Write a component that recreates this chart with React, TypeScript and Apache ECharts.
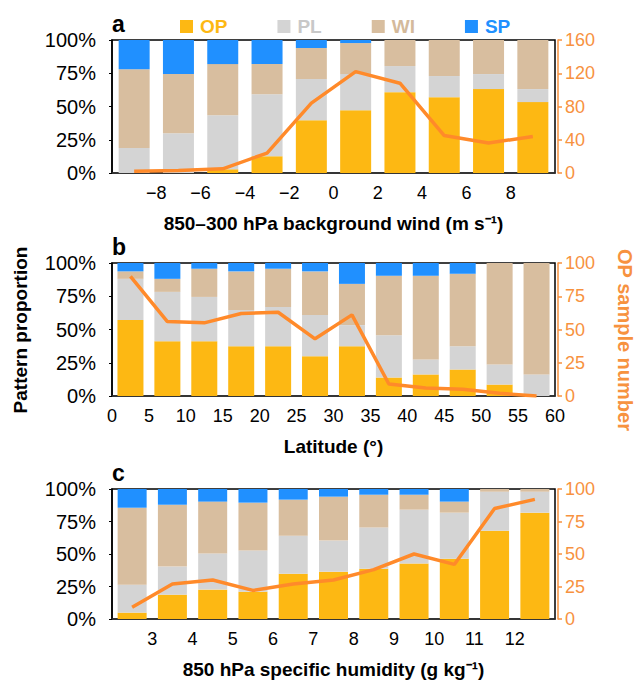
import React, { useEffect, useRef } from "react";
import * as echarts from "echarts";

// Panel a: 850–300 hPa background wind bins (m s-1), centres of 2 m s-1 bins
const windBins = [-9, -7, -5, -3, -1, 1, 3, 5, 7, 9];
const windOP = [0, 0, 2.8, 12.6, 39.7, 47.2, 60.8, 57.0, 63.1, 53.3];
const windPL = [18.8, 29.9, 40.7, 46.7, 30.9, 27.2, 19.6, 15.9, 11.3, 9.8];
const windWI = [59.3, 44.5, 38.4, 22.6, 23.4, 23.3, 19.6, 27.1, 25.6, 36.9];
const windSP = [21.9, 25.6, 18.1, 18.1, 6.0, 2.3, 0, 0, 0, 0];
const windCount = [2, 3, 5, 24, 84, 122, 108, 45, 36, 44];

// Panel b: latitude bins (°), centres of 5° bins
const latBins = [2.5, 7.5, 12.5, 17.5, 22.5, 27.5, 32.5, 37.5, 42.5, 47.5, 52.5, 57.5];
const latOP = [57.1, 41.2, 41.2, 37.4, 37.4, 29.8, 37.4, 13.9, 16.2, 19.9, 8.6, 0];
const latPL = [31.0, 37.1, 33.3, 27.2, 29.5, 31.1, 15.9, 31.8, 11.3, 17.5, 15.1, 16.2];
const latWI = [5.6, 9.8, 21.2, 29.1, 28.8, 32.8, 31.0, 44.7, 62.9, 54.5, 76.3, 83.8];
const latSP = [6.3, 11.9, 4.3, 6.3, 4.3, 6.3, 15.7, 9.6, 9.6, 8.1, 0, 0];
const latCount = [90, 56, 55, 62, 63, 43, 61, 9, 6, 5, 2, 0];

// Panel c: 850 hPa specific humidity bins (g kg-1), centres of 1 g kg-1 bins
const humBins = [2.5, 3.5, 4.5, 5.5, 6.5, 7.5, 8.5, 9.5, 10.5, 11.5, 12.5];
const humOP = [4.9, 18.7, 22.6, 21.0, 34.9, 36.4, 38.7, 42.6, 46.4, 67.9, 81.8];
const humPL = [21.5, 21.6, 27.7, 31.6, 29.2, 23.9, 31.6, 41.5, 35.4, 30.0, 16.1];
const humWI = [59.2, 47.6, 40.0, 36.9, 27.7, 33.8, 25.3, 11.5, 8.5, 2.1, 2.1];
const humSP = [14.4, 12.1, 9.7, 10.5, 8.2, 5.9, 4.4, 4.4, 9.7, 0, 0];
const humCount = [9, 27, 30, 22, 27, 30, 38, 50, 42, 85, 92];

const patternNames = ["OP", "PL", "WI", "SP"];

const FONT = '"Liberation Sans", Arial, Helvetica, sans-serif';
const COLORS: Record<string, string> = {
  OP: "#FDB813",
  PL: "#D4D4D4",
  WI: "#D8BE9F",
  SP: "#2090FF",
};
const LEGEND_TEXT: Record<string, string> = {
  OP: "#FDB813",
  PL: "#C8C8C8",
  WI: "#D4BA9B",
  SP: "#2090FF",
};
const LINE_COLOR = "#FF8A2A";
const AXIS_ORANGE = "#F7923F";

type Panel = {
  bins: number[];
  parts: number[][];
  count: number[];
  xMin: number;
  xMax: number;
  xStep: number;
  hideEnds: boolean;
  countMax: number;
  countStep: number;
  title: string;
  barWidth: number;
  grid: { top: number; height: number };
};

const panels: Panel[] = [
  {
    bins: windBins,
    parts: [windOP, windPL, windWI, windSP],
    count: windCount,
    xMin: -10,
    xMax: 10,
    xStep: 2,
    hideEnds: true,
    countMax: 160,
    countStep: 40,
    title: "850–300 hPa background wind (m s⁻¹)",
    barWidth: 31,
    grid: { top: 40, height: 133 },
  },
  {
    bins: latBins,
    parts: [latOP, latPL, latWI, latSP],
    count: latCount,
    xMin: 0,
    xMax: 60,
    xStep: 5,
    hideEnds: false,
    countMax: 100,
    countStep: 25,
    title: "Latitude (°)",
    barWidth: 26,
    grid: { top: 263, height: 133 },
  },
  {
    bins: humBins,
    parts: [humOP, humPL, humWI, humSP],
    count: humCount,
    xMin: 2,
    xMax: 13,
    xStep: 1,
    hideEnds: true,
    countMax: 100,
    countStep: 25,
    title: "850 hPa specific humidity (g kg⁻¹)",
    barWidth: 29,
    grid: { top: 489, height: 130 },
  },
];

function buildOption() {
  const grid: any[] = [];
  const xAxis: any[] = [];
  const yAxis: any[] = [];
  const series: any[] = [];

  panels.forEach((p, i) => {
    grid.push({
      left: 112,
      width: 443,
      top: p.grid.top,
      height: p.grid.height,
      show: true,
      borderColor: "#000",
      borderWidth: 1.5,
      backgroundColor: "transparent",
    });
    // bins as categories: carries the bars and the count line
    xAxis.push({
      type: "category",
      gridIndex: i,
      position: "bottom",
      data: p.bins.map(String),
      axisTick: { show: false },
      axisLabel: { show: false },
      axisLine: { show: true, onZero: false, lineStyle: { color: "#333", width: 1.5 } },
    });
    // continuous scale along the same span: bin-edge tick labels and the title
    xAxis.push({
      type: "value",
      gridIndex: i,
      position: "bottom",
      min: p.xMin,
      max: p.xMax,
      interval: p.xStep,
      splitLine: { show: false },
      axisTick: { show: false },
      axisLine: { show: false, onZero: false },
      axisLabel: {
        color: "#000",
        fontSize: 18,
        fontFamily: FONT,
        margin: 11,
        formatter: (v: number) => {
          if (p.hideEnds && (v === p.xMin || v === p.xMax)) return "";
          return v < 0 ? "−" + Math.abs(v) : String(v);
        },
      },
      name: p.title,
      nameLocation: "middle",
      nameGap: 41,
      nameTextStyle: {
        color: "#000",
        fontSize: 19,
        fontWeight: "bold",
        fontFamily: FONT,
      },
    });
    yAxis.push({
      type: "value",
      gridIndex: i,
      position: "left",
      min: 0,
      max: 100,
      interval: 25,
      splitLine: { show: false },
      axisLine: { show: true, onZero: false, lineStyle: { color: "#000", width: 1.5 } },
      axisTick: { show: true, length: 3, lineStyle: { color: "#000" } },
      axisLabel: {
        color: "#000",
        fontSize: 20,
        fontFamily: FONT,
        margin: 16,
        formatter: "{value}%",
      },
    });
    yAxis.push({
      type: "value",
      gridIndex: i,
      position: "right",
      offset: 3,
      min: 0,
      max: p.countMax,
      interval: p.countStep,
      splitLine: { show: false },
      axisLine: { show: true, onZero: false, lineStyle: { color: AXIS_ORANGE, width: 1.5 } },
      axisTick: { show: true, length: 4, lineStyle: { color: AXIS_ORANGE, width: 1.5 } },
      axisLabel: {
        color: AXIS_ORANGE,
        fontSize: 18,
        fontFamily: FONT,
        margin: 7,
      },
    });

    patternNames.forEach((name, k) => {
      series.push({
        type: "bar",
        name,
        stack: "panel" + i,
        xAxisIndex: 2 * i,
        yAxisIndex: 2 * i,
        barWidth: p.barWidth,
        itemStyle: { color: COLORS[name] },
        data: p.parts[k],
      });
    });
    series.push({
      type: "line",
      name: "OP sample number",
      xAxisIndex: 2 * i,
      yAxisIndex: 2 * i + 1,
      z: 4,
      symbol: "none",
      lineStyle: { color: LINE_COLOR, width: 3.5 },
      data: p.count,
    });
  });

  const letters = ["a", "b", "c"];
  const graphic: any[] = letters.map((t, i) => ({
    type: "text",
    left: 112,
    top: panels[i].grid.top - 28,
    style: {
      text: t,
      fontSize: 23,
      fontWeight: "bold",
      fontFamily: FONT,
      fill: "#000",
    },
  }));
  graphic.push({
    type: "text",
    x: 20,
    y: 330,
    rotation: Math.PI / 2,
    style: {
      text: "Pattern proportion",
      fontSize: 19,
      fontWeight: "bold",
      fontFamily: FONT,
      fill: "#000",
      align: "center",
      verticalAlign: "middle",
    },
  });
  graphic.push({
    type: "text",
    x: 625,
    y: 340,
    rotation: -Math.PI / 2,
    style: {
      text: "OP sample number",
      fontSize: 20,
      fontWeight: "bold",
      fontFamily: FONT,
      fill: AXIS_ORANGE,
      align: "center",
      verticalAlign: "middle",
    },
  });

  return {
    animation: false,
    backgroundColor: "#fff",
    legend: {
      left: 175,
      top: 12,
      itemWidth: 13,
      itemHeight: 13,
      itemGap: 50,
      icon: "rect",
      selectedMode: false,
      textStyle: {
        fontSize: 19,
        fontWeight: "bold",
        fontFamily: FONT,
        padding: [0, 0, 0, 2],
      },
      data: patternNames.map((n) => ({ name: n, textStyle: { color: LEGEND_TEXT[n] } })),
    },
    grid,
    xAxis,
    yAxis,
    series,
    graphic,
  };
}

export default function App() {
  const ref = useRef<HTMLDivElement>(null);
  useEffect(() => {
    if (!ref.current) return;
    const chart = echarts.init(ref.current, undefined, { renderer: "svg" });
    chart.setOption(buildOption() as any);
    return () => chart.dispose();
  }, []);
  return (
    <div
      ref={ref}
      style={{ position: "absolute", left: 0, top: 0, width: 635, height: 682 }}
    />
  );
}
